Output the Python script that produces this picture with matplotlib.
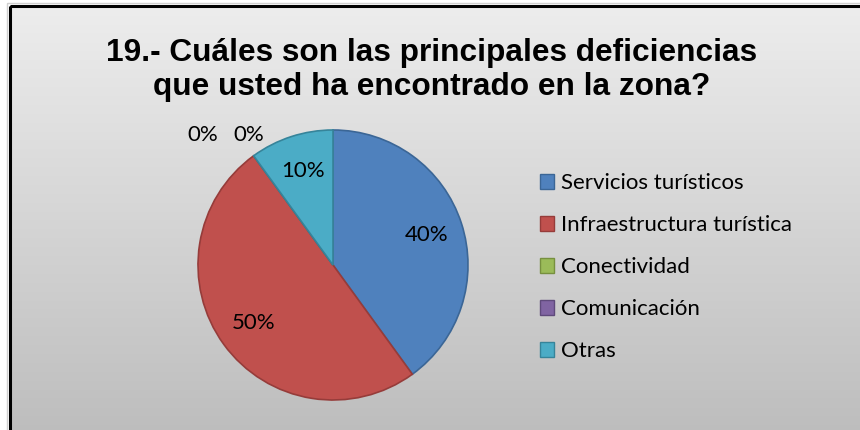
import numpy as np
import matplotlib.pyplot as plt
from matplotlib.patches import Rectangle, Patch
from matplotlib.colors import LinearSegmentedColormap

categorias = ["Servicios turísticos", "Infraestructura turística",
              "Conectividad", "Comunicación", "Otras"]
valores = [40, 50, 0, 0, 10]
colores = ["#4F81BD", "#C0504D", "#9BBB59", "#8064A2", "#4BACC6"]
bordes = ["#3B6696", "#963C3A", "#77903F", "#5F4A7B", "#36849A"]
titulo = "19.- Cuáles son las principales deficiencias\nque usted ha encontrado en la zona?"

W, H = 860, 430
fig = plt.figure(figsize=(W / 100, H / 100), dpi=100)

# --- fondo con degradado y marco ---
bg = fig.add_axes([0, 0, 1, 1], zorder=-10)
bg.set_xlim(0, W)
bg.set_ylim(H, 0)
bg.axis("off")
cmap = LinearSegmentedColormap.from_list("g", ["#ededed", "#bdbdbd"])
grad = np.linspace(0, 1, 256).reshape(-1, 1)
bg.imshow(grad, cmap=cmap, extent=[10, W + 5, H + 5, 6], aspect="auto")
bg.add_patch(Rectangle((10, 6), W, H, fill=False, edgecolor="black", lw=2.2))
bg.add_patch(Rectangle((7, 3), W, H, fill=False, edgecolor="#d0d0d0", lw=1.0, zorder=-1))

fig.text(432 / W, 1 - 70 / H, titulo, ha="center", va="center",
         fontsize=22.8, fontweight="bold", family="Liberation Sans",
         linespacing=1.17)

# --- gráfico circular ---
ax = fig.add_axes([198 / W, 30 / H, 270 / W, 270 / H])
total = sum(valores)
wedges, texts, autotexts = ax.pie(
    valores, colors=colores, startangle=90, counterclock=False,
    autopct=lambda p: f"{p:.0f}%" if p > 0 else "",
    pctdistance=0.73, wedgeprops=dict(linewidth=1.2),
    textprops=dict(fontsize=16, family="Lato", color="black"))
for w, ec in zip(wedges, bordes):
    w.set_edgecolor(ec)
ax.set_xlim(-1, 1)
ax.set_ylim(-1, 1)
ax.set_aspect("equal")

# etiquetas de las categorías con 0%
ang = np.deg2rad(90 - 360 * (valores[0] + valores[1]) / total)
x0, y0 = 1.0 * np.cos(ang), 1.0 * np.sin(ang)
ceros = [i for i, v in enumerate(valores) if v == 0]
for k, i in enumerate(ceros):
    ax.annotate(f"{valores[i]}%", (x0, y0), xytext=(-33 * (len(ceros) - 1 - k) - 3.5, 15),
                textcoords="offset points", ha="center", va="center",
                fontsize=16, family="Lato", annotation_clip=False)

# --- leyenda ---
handles = [Patch(facecolor=c, edgecolor=e, lw=1.0) for c, e in zip(colores, bordes)]
fig.legend(handles, categorias, loc="upper left", bbox_to_anchor=(540 / W, 1 - 173 / H),
           frameon=False, prop=dict(family="Lato", size=16),
           handlelength=0.65, handleheight=0.65, handletextpad=0.3,
           labelspacing=0.99, borderaxespad=0, borderpad=0)

fig.savefig("out.png", dpi=100)
